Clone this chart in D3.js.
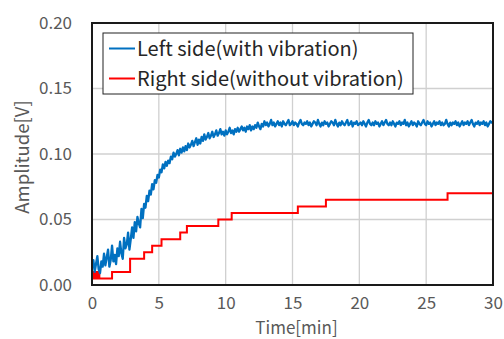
<!DOCTYPE html>
<html><head><meta charset="utf-8">
<script src="https://cdn.jsdelivr.net/npm/d3@7"></script>
<style>body{margin:0;background:#fff;} svg{display:block;}</style>
</head><body>
<script>
// ---- data ----
const sampleStep = 0.1; // minutes between samples of the left-side trace
const leftValues = [
0.013,0.019,0.010,0.016,0.022,0.012,0.009,0.018,0.014,0.024,
0.015,0.021,0.027,0.014,0.019,0.030,0.018,0.023,0.016,0.028,
0.022,0.033,0.024,0.020,0.036,0.028,0.031,0.040,0.027,0.035,
0.044,0.036,0.048,0.041,0.052,0.047,0.044,0.058,0.051,0.062,
0.059,0.068,0.064,0.072,0.069,0.077,0.073,0.080,0.078,0.084,
0.082,0.088,0.086,0.092,0.089,0.094,0.091,0.095,0.093,0.098,
0.096,0.101,0.098,0.100,0.103,0.099,0.104,0.101,0.105,0.102,
0.106,0.103,0.108,0.105,0.107,0.110,0.106,0.109,0.112,0.107,
0.111,0.108,0.113,0.110,0.115,0.111,0.113,0.116,0.112,0.114,
0.117,0.113,0.115,0.118,0.114,0.116,0.119,0.115,0.117,0.114,
0.118,0.115,0.117,0.120,0.116,0.118,0.115,0.119,0.117,0.120,
0.117,0.119,0.121,0.118,0.120,0.117,0.121,0.119,0.122,0.118,
0.121,0.119,0.122,0.120,0.124,0.121,0.119,0.123,0.121,0.125,
0.122,0.124,0.121,0.123,0.126,0.122,0.124,0.121,0.123,0.125,
0.122,0.124,0.121,0.125,0.123,0.122,0.124,0.126,0.122,0.123,
0.125,0.122,0.124,0.123,0.121,0.124,0.126,0.123,0.122,0.124,
0.123,0.125,0.122,0.124,0.121,0.123,0.125,0.124,0.122,0.126,
0.123,0.121,0.124,0.122,0.125,0.123,0.124,0.121,0.123,0.125,
0.124,0.122,0.126,0.123,0.121,0.124,0.122,0.125,0.123,0.122,
0.124,0.126,0.122,0.123,0.125,0.121,0.124,0.123,0.125,0.122,
0.123,0.124,0.122,0.125,0.123,0.121,0.124,0.126,0.123,0.122,
0.124,0.122,0.125,0.123,0.124,0.121,0.123,0.125,0.122,0.124,
0.126,0.123,0.122,0.124,0.122,0.125,0.123,0.121,0.124,0.123,
0.125,0.122,0.124,0.123,0.126,0.122,0.124,0.121,0.123,0.125,
0.122,0.124,0.123,0.121,0.125,0.123,0.122,0.124,0.126,0.123,
0.122,0.125,0.123,0.124,0.121,0.123,0.125,0.122,0.124,0.123,
0.125,0.122,0.124,0.122,0.123,0.126,0.123,0.121,0.124,0.122,
0.124,0.123,0.125,0.122,0.124,0.121,0.123,0.125,0.122,0.124,
0.123,0.125,0.122,0.124,0.126,0.123,0.121,0.124,0.123,0.125,
0.122,0.124,0.123,0.125,0.122,0.124,0.121,0.123,0.125,0.124,
0.125
];
const rightTimes  = [0,    0.15, 0.25, 0.35, 0.45, 0.55, 1.5,  2.85, 3.9,  4.5,  5.2,  6.6,  7.1,  9.45, 10.45, 15.4, 17.5, 26.6, 30];
const rightValues = [0.010,0.005,0.010,0.005,0.010,0.005,0.010,0.020,0.025,0.030,0.035,0.040,0.045,0.050,0.055, 0.060,0.065,0.070,0.070];
const xTicks = [0,5,10,15,20,25,30];
const yTicks = [0.00,0.05,0.10,0.15,0.20];
const seriesNames = ["Left side(with vibration)","Right side(without vibration)"];
const seriesColors = ["#0070C0","#FF0000"];
const xTitle = "Time[min]";
const yTitle = "Amplitude[V]";

// ---- chart ----
const W = 504, H = 339;
const m = {left:92, right:11, top:23, bottom:54};
const font = "'Noto Sans CJK JP','Noto Sans',sans-serif";
const svg = d3.select("body").append("svg").attr("width",W).attr("height",H);

const x = d3.scaleLinear().domain([0,30]).range([m.left, W-m.right]);
const y = d3.scaleLinear().domain([0,0.2]).range([H-m.bottom, m.top]);

// gridlines
svg.append("g").selectAll("line").data(xTicks.slice(1,-1)).join("line")
  .attr("x1",d=>x(d)).attr("x2",d=>x(d)).attr("y1",y(0)).attr("y2",y(0.2))
  .attr("stroke","#d0d0d0").attr("stroke-width",1.3);
svg.append("g").selectAll("line").data(yTicks.slice(1,-1)).join("line")
  .attr("y1",d=>y(d)).attr("y2",d=>y(d)).attr("x1",x(0)).attr("x2",x(30))
  .attr("stroke","#d0d0d0").attr("stroke-width",1.3);

// axes (labels only)
const xAxis = svg.append("g").attr("transform",`translate(0,${y(0)})`)
  .call(d3.axisBottom(x).tickValues(xTicks).tickSize(0).tickPadding(12).tickFormat(d3.format("d")));
const yAxis = svg.append("g").attr("transform",`translate(${x(0)},0)`)
  .call(d3.axisLeft(y).tickValues(yTicks).tickSize(0).tickPadding(20).tickFormat(d3.format(".2f")));
[xAxis,yAxis].forEach(g=>{
  g.select(".domain").remove();
  g.selectAll("text").attr("font-family",font).attr("font-size",17).attr("fill","#595959");
});

// clip
svg.append("clipPath").attr("id","clip").append("rect")
  .attr("x",x(0)).attr("y",y(0.2)).attr("width",x(30)-x(0)).attr("height",y(0)-y(0.2));

const leftData = leftValues.map((v,i)=>[i*sampleStep, v]);
const rightData = rightTimes.map((t,i)=>[t, rightValues[i]]);

const lineL = d3.line().x(d=>x(d[0])).y(d=>y(d[1]));
const lineR = d3.line().x(d=>x(d[0])).y(d=>y(d[1])).curve(d3.curveStepAfter);

const plot = svg.append("g").attr("clip-path","url(#clip)");
plot.append("path").datum(rightData).attr("d",lineR).attr("fill","none")
  .attr("stroke",seriesColors[1]).attr("stroke-width",2);
plot.append("path").datum(leftData).attr("d",lineL).attr("fill","none")
  .attr("stroke",seriesColors[0]).attr("stroke-width",2.3).attr("stroke-linejoin","round");

// plot border
svg.append("rect").attr("x",x(0)).attr("y",y(0.2)).attr("width",x(30)-x(0)).attr("height",y(0)-y(0.2))
  .attr("fill","none").attr("stroke","#1a1a1a").attr("stroke-width",2);

// titles
svg.append("text").attr("x",(x(0)+x(30))/2+4).attr("y",H-5).attr("text-anchor","middle")
  .attr("font-family",font).attr("font-size",17).attr("fill","#595959").text(xTitle);
svg.append("text").attr("transform",`translate(29,${(y(0)+y(0.2))/2+3}) rotate(-90)`).attr("text-anchor","middle")
  .attr("font-family",font).attr("font-size",18.5).attr("fill","#595959").text(yTitle);

// legend
const lg = svg.append("g");
lg.append("rect").attr("x",103).attr("y",33).attr("width",310).attr("height",61)
  .attr("fill","#fff").attr("stroke","#222").attr("stroke-width",1);
seriesNames.forEach((n,i)=>{
  const cy = 48.5 + i*30;
  lg.append("line").attr("x1",109).attr("x2",135).attr("y1",cy).attr("y2",cy)
    .attr("stroke",seriesColors[i]).attr("stroke-width",2);
  lg.append("text").attr("x",137).attr("y",cy).attr("dy","0.36em")
    .attr("font-family",font).attr("font-size",20).attr("fill","#262626").text(n);
});
</script>
</body></html>
